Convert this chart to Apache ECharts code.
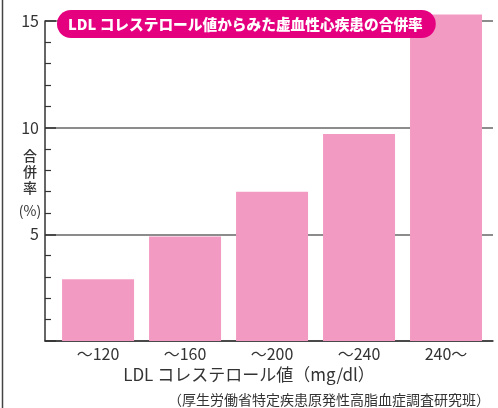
<!DOCTYPE html>
<html>
<head>
<meta charset="utf-8">
<script src="https://cdn.jsdelivr.net/npm/echarts@6/dist/echarts.min.js"></script>
<style>
  html, body { margin: 0; padding: 0; background: #fff; }
  #chart { width: 498px; height: 408px; }
</style>
</head>
<body>
<div id="chart"></div>
<script>
// LDL区分と合併率(%)
var categories = ['～120', '～160', '～200', '～240', '240～'];
var rates = [2.9, 4.9, 7.0, 9.7, 15.3];
var yLabels = [5, 10, 15];
var catIndex = [0, 1, 2, 3, 4];

var font = '"Noto Sans CJK JP", "Noto Sans", sans-serif';

var myChart = echarts.init(document.getElementById('chart'));

var barData = [];
for (let i = 0; i < rates.length; i++) {
    barData.push([catIndex[i], rates[i]]);
}

var option = {
    animation: false,
    textStyle: { fontFamily: font },
    title: {
        text: 'LDL コレステロール値からみた虚血性心疾患の合併率',
        left: 57,
        top: 10,
        backgroundColor: '#E5007F',
        borderRadius: 14,
        padding: [6, 13, 6, 11],
        textStyle: {
            color: '#fff',
            fontSize: 14.7,
            lineHeight: 16,
            fontWeight: 900,
            fontFamily: font
        }
    },
    grid: { left: 45, right: 5, top: 21, bottom: 67, outerBoundsMode: 'none' },
    xAxis: {
        type: 'value',
        min: -0.61,
        max: 4.54,
        axisLine: { show: true, onZero: false, lineStyle: { color: '#333', width: 1.5 } },
        axisTick: { show: false },
        splitLine: { show: false },
        axisLabel: {
            customValues: catIndex,
            formatter: function(v) { return categories[v]; },
            color: '#333',
            fontSize: 16,
            margin: 5,
            fontFamily: font
        }
    },
    yAxis: {
        type: 'value',
        min: 0,
        max: 15,
        interval: 5,
        axisLine: { show: true, onZero: false, lineStyle: { color: '#333', width: 1.5 } },
        axisTick: { show: true, inside: true, length: 11, lineStyle: { color: '#333', width: 1.5 } },
        minorTick: { show: true, splitNumber: 5, length: 6, lineStyle: { color: '#333', width: 1.2 } },
        splitLine: { show: true, lineStyle: { color: '#666', width: 1.5 } },
        axisLabel: {
            customValues: yLabels,
            color: '#333',
            fontSize: 16,
            margin: 6,
            fontFamily: font
        }
    },
    series: [{
        type: 'bar',
        data: barData,
        barWidth: 72,
        clip: false,
        itemStyle: { color: '#F39AC3' }
    }],
    graphic: [
        {
            type: 'line',
            shape: { x1: 2.5, y1: 0, x2: 2.5, y2: 408 },
            style: { stroke: '#444', lineWidth: 1.5 }
        },
        {
            // 縦書きの軸名
            type: 'text',
            x: 30,
            y: 148,
            style: {
                text: '合\n併\n率',
                fill: '#333',
                fontSize: 14,
                fontWeight: 500,
                fontFamily: font,
                lineHeight: 16,
                align: 'center',
                verticalAlign: 'top'
            }
        },
        {
            type: 'text',
            x: 30,
            y: 211,
            style: {
                text: '(%)',
                fill: '#333',
                fontSize: 14,
                fontFamily: font,
                align: 'center',
                verticalAlign: 'middle'
            }
        },
        {
            type: 'text',
            x: 249,
            y: 375,
            style: {
                text: 'LDL コレステロール値（mg/dl）',
                fill: '#333',
                fontSize: 17,
                fontFamily: font,
                align: 'center',
                verticalAlign: 'middle'
            }
        },
        {
            type: 'text',
            x: 490,
            y: 400,
            style: {
                text: '（厚生労働省特定疾患原発性高脂血症調査研究班）',
                fill: '#333',
                fontSize: 14,
                fontFamily: font,
                align: 'right',
                verticalAlign: 'middle'
            }
        }
    ]
};

myChart.setOption(option);
</script>
</body>
</html>
